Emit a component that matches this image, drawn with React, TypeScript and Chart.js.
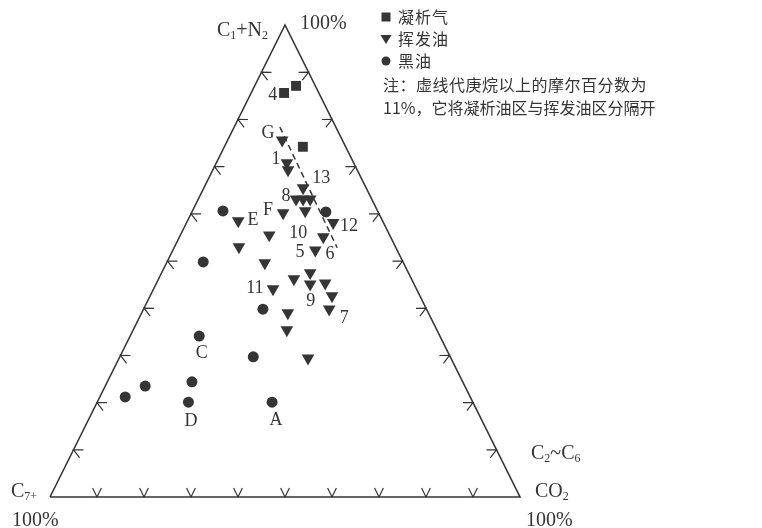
import { useEffect, useRef } from "react";
import { Chart, registerables } from "chart.js";

Chart.register(...registerables);

// Compositions in mole %: [C1+N2, C2~C6+CO2]; C7+ is the remainder.
const condensateGas: [number, number][] = [
  [85.6, 7.0], [87.1, 8.8], [74.2, 16.7],
];
const volatileOil: [number, number][] = [
  [75.6, 11.6], [70.8, 15.0], [69.3, 16.0], [65.5, 21.1], [63.1, 20.8], [63.1, 22.3],
  [63.1, 23.8], [60.6, 24.0], [60.2, 19.5], [58.5, 10.8], [58.1, 31.2], [55.5, 18.9],
  [55.1, 30.6], [53.0, 13.7], [52.3, 30.3], [49.6, 20.9], [47.5, 31.6], [46.2, 28.8],
  [45.1, 32.8], [45.3, 35.9], [42.6, 38.7], [39.8, 39.5], [44.1, 25.4], [39.0, 31.1],
  [35.4, 32.7], [29.4, 40.2],
];
const blackOil: [number, number][] = [
  [60.6, 6.5], [60.4, 28.5], [49.8, 7.7], [39.8, 25.4], [34.1, 14.7], [29.7, 28.4],
  [23.5, 8.5], [21.2, 5.4], [24.4, 18.0], [20.1, 19.4], [20.1, 37.2],
];
// 11% heptane-plus boundary (dashed)
const dashedLine: [number, number][] = [[78.4, 9.7], [52.8, 34.7]];

const sampleLabels = ["4", "G", "1", "13", "8", "F", "E", "12", "10", "5", "6", "11", "9", "7", "C", "D", "A"];
const sampleLabelPos: [number, number][] = [
  [85.2, 4.8], [77.1, 7.85], [71.6, 12.3], [67.6, 23.9], [63.8, 18.3], [60.8, 16.0],
  [58.7, 13.85], [57.4, 34.9], [55.9, 24.85], [51.9, 27.25], [51.5, 33.85], [44.3, 21.45],
  [41.5, 34.75], [37.9, 43.65], [30.5, 17.05], [16.1, 21.95], [16.3, 39.95],
];

const tickSteps = [10, 20, 30, 40, 50, 60, 70, 80, 90];
const legendNames = ["凝析气", "挥发油", "黑油"];
const noteLines = ["注：虚线代庚烷以上的摩尔百分数为", "11%，它将凝析油区与挥发油区分隔开"];

const INK = "#353535";
const SERIF = "'Liberation Serif', 'DejaVu Serif', serif";
const CJK = "'Noto Sans CJK SC', sans-serif";

const toXY = (p: [number, number]) => ({ x: (p[1] + p[0] / 2) / 100, y: p[0] / 100 });

export default function App() {
  const ref = useRef<HTMLCanvasElement | null>(null);

  useEffect(() => {
    if (!ref.current) return;

    const drawParts = (
      ctx: CanvasRenderingContext2D,
      parts: [string, boolean][],
      x: number,
      y: number,
      size: number,
      align: "left" | "right"
    ) => {
      const sub = Math.round(size * 0.6);
      let total = 0;
      parts.forEach(([t, s]) => {
        ctx.font = `${s ? sub : size}px ${SERIF}`;
        total += ctx.measureText(t).width;
      });
      let cx = align === "right" ? x - total : x;
      parts.forEach(([t, s]) => {
        ctx.font = `${s ? sub : size}px ${SERIF}`;
        ctx.fillText(t, cx, s ? y + 3 : y);
        cx += ctx.measureText(t).width;
      });
    };

    const overlay = {
      id: "ternaryOverlay",
      afterDatasetsDraw(chart: any) {
        const ctx: CanvasRenderingContext2D = chart.ctx;
        const xs = chart.scales.x;
        const ys = chart.scales.y;
        const px = (p: [number, number]) => {
          const q = toXY(p);
          return { x: xs.getPixelForValue(q.x), y: ys.getPixelForValue(q.y) };
        };
        const L = px([0, 0]);
        const R = px([0, 100]);
        const A = px([100, 0]);
        const cen = { x: (L.x + R.x + A.x) / 3, y: (L.y + R.y + A.y) / 3 };

        ctx.save();
        // chevron ticks
        ctx.strokeStyle = INK;
        ctx.lineWidth = 1.2;
        const chevron = (P: { x: number; y: number }, a: { x: number; y: number }, b: { x: number; y: number }) => {
          let dx = b.x - a.x, dy = b.y - a.y;
          const len = Math.hypot(dx, dy);
          dx /= len; dy /= len;
          let nx = -dy, ny = dx;
          if (nx * (cen.x - P.x) + ny * (cen.y - P.y) < 0) { nx = -nx; ny = -ny; }
          const th = (26 * Math.PI) / 180;
          const arm = 10;
          const r1 = { x: nx * Math.cos(th) - ny * Math.sin(th), y: nx * Math.sin(th) + ny * Math.cos(th) };
          const r2 = { x: nx * Math.cos(-th) - ny * Math.sin(-th), y: nx * Math.sin(-th) + ny * Math.cos(-th) };
          ctx.beginPath();
          ctx.moveTo(P.x + r1.x * arm, P.y + r1.y * arm);
          ctx.lineTo(P.x, P.y);
          ctx.lineTo(P.x + r2.x * arm, P.y + r2.y * arm);
          ctx.stroke();
        };
        tickSteps.forEach((k) => {
          chevron(px([0, k]), L, R);
          chevron(px([k, 0]), L, A);
          chevron(px([k, 100 - k]), R, A);
        });

        // sample labels
        ctx.fillStyle = INK;
        ctx.textAlign = "center";
        ctx.textBaseline = "middle";
        ctx.font = `18px ${SERIF}`;
        sampleLabels.forEach((t, i) => {
          const p = px(sampleLabelPos[i]);
          ctx.fillText(t, p.x, p.y);
        });

        // vertex labels
        ctx.textAlign = "left";
        ctx.textBaseline = "alphabetic";
        drawParts(ctx, [["C", false], ["1", true], ["+N", false], ["2", true]], A.x - 17, A.y + 11, 20, "right");
        ctx.font = `20px ${SERIF}`;
        ctx.fillText("100%", A.x + 15, A.y + 4);
        drawParts(ctx, [["C", false], ["7+", true]], L.x - 39, L.y, 20, "left");
        ctx.font = `20px ${SERIF}`;
        ctx.fillText("100%", L.x - 38, L.y + 29);
        drawParts(ctx, [["C", false], ["2", true], ["~C", false], ["6", true]], R.x + 11, R.y - 38, 20, "left");
        drawParts(ctx, [["CO", false], ["2", true]], R.x + 15, R.y, 20, "left");
        ctx.font = `20px ${SERIF}`;
        ctx.fillText("100%", R.x + 6, R.y + 29);

        // legend
        const lx = 386;
        const rows = [17, 39, 61];
        ctx.fillStyle = INK;
        ctx.fillRect(lx - 4.5, rows[0] - 4.5, 9, 9);
        ctx.beginPath();
        ctx.moveTo(lx - 5.5, rows[1] - 4);
        ctx.lineTo(lx + 5.5, rows[1] - 4);
        ctx.lineTo(lx, rows[1] + 5);
        ctx.closePath();
        ctx.fill();
        ctx.beginPath();
        ctx.arc(lx, rows[2], 4.5, 0, Math.PI * 2);
        ctx.fill();
        ctx.font = `16px ${CJK}`;
        ctx.textBaseline = "middle";
        (ctx as any).letterSpacing = "1px";
        legendNames.forEach((n, i) => {
          ctx.fillText(n, 398, rows[i]);
        });
        (ctx as any).letterSpacing = "0.5px";
        ctx.fillText(noteLines[0], 383, 85);
        (ctx as any).letterSpacing = "0px";
        ctx.fillText(noteLines[1], 383, 108);
        ctx.restore();
      },
    };

    const xMin = -50 / 470;
    const xMax = 712 / 470;
    const yMax = 1 + 25 / 472;
    const yMin = yMax - 528 / 472;

    const outline = [[0, 0], [0, 100], [100, 0], [0, 0]].map((p) => toXY(p as [number, number]));

    const chart = new Chart(ref.current, {
      type: "scatter",
      data: {
        datasets: [
          {
            label: "outline",
            data: outline,
            showLine: true,
            borderColor: INK,
            borderWidth: 1.6,
            pointRadius: 0,
          },
          {
            label: "boundary",
            data: dashedLine.map(toXY),
            showLine: true,
            borderColor: INK,
            borderWidth: 1.5,
            borderDash: [6, 4],
            pointRadius: 0,
          },
          {
            label: legendNames[0],
            data: condensateGas.map(toXY),
            pointStyle: "rect",
            pointRadius: 7,
            backgroundColor: INK,
            borderColor: INK,
            borderWidth: 0,
          },
          {
            label: legendNames[1],
            data: volatileOil.map(toXY),
            pointStyle: "triangle",
            rotation: 180,
            pointRadius: 7.3,
            backgroundColor: INK,
            borderColor: INK,
            borderWidth: 0,
          },
          {
            label: legendNames[2],
            data: blackOil.map(toXY),
            pointStyle: "circle",
            pointRadius: 5.5,
            backgroundColor: INK,
            borderColor: INK,
            borderWidth: 0,
          },
        ],
      },
      options: {
        responsive: false,
        animation: false,
        layout: { padding: 0, autoPadding: false },
        scales: {
          x: { type: "linear", min: xMin, max: xMax, display: false },
          y: { type: "linear", min: yMin, max: yMax, display: false },
        },
        plugins: {
          legend: { display: false },
          tooltip: { enabled: false },
        },
      },
      plugins: [overlay],
    });
    return () => chart.destroy();
  }, []);

  return (
    <div style={{ position: "absolute", left: 0, top: 0, width: 762, height: 528, background: "#fff" }}>
      <canvas ref={ref} width={762} height={528} style={{ display: "block" }} />
    </div>
  );
}
